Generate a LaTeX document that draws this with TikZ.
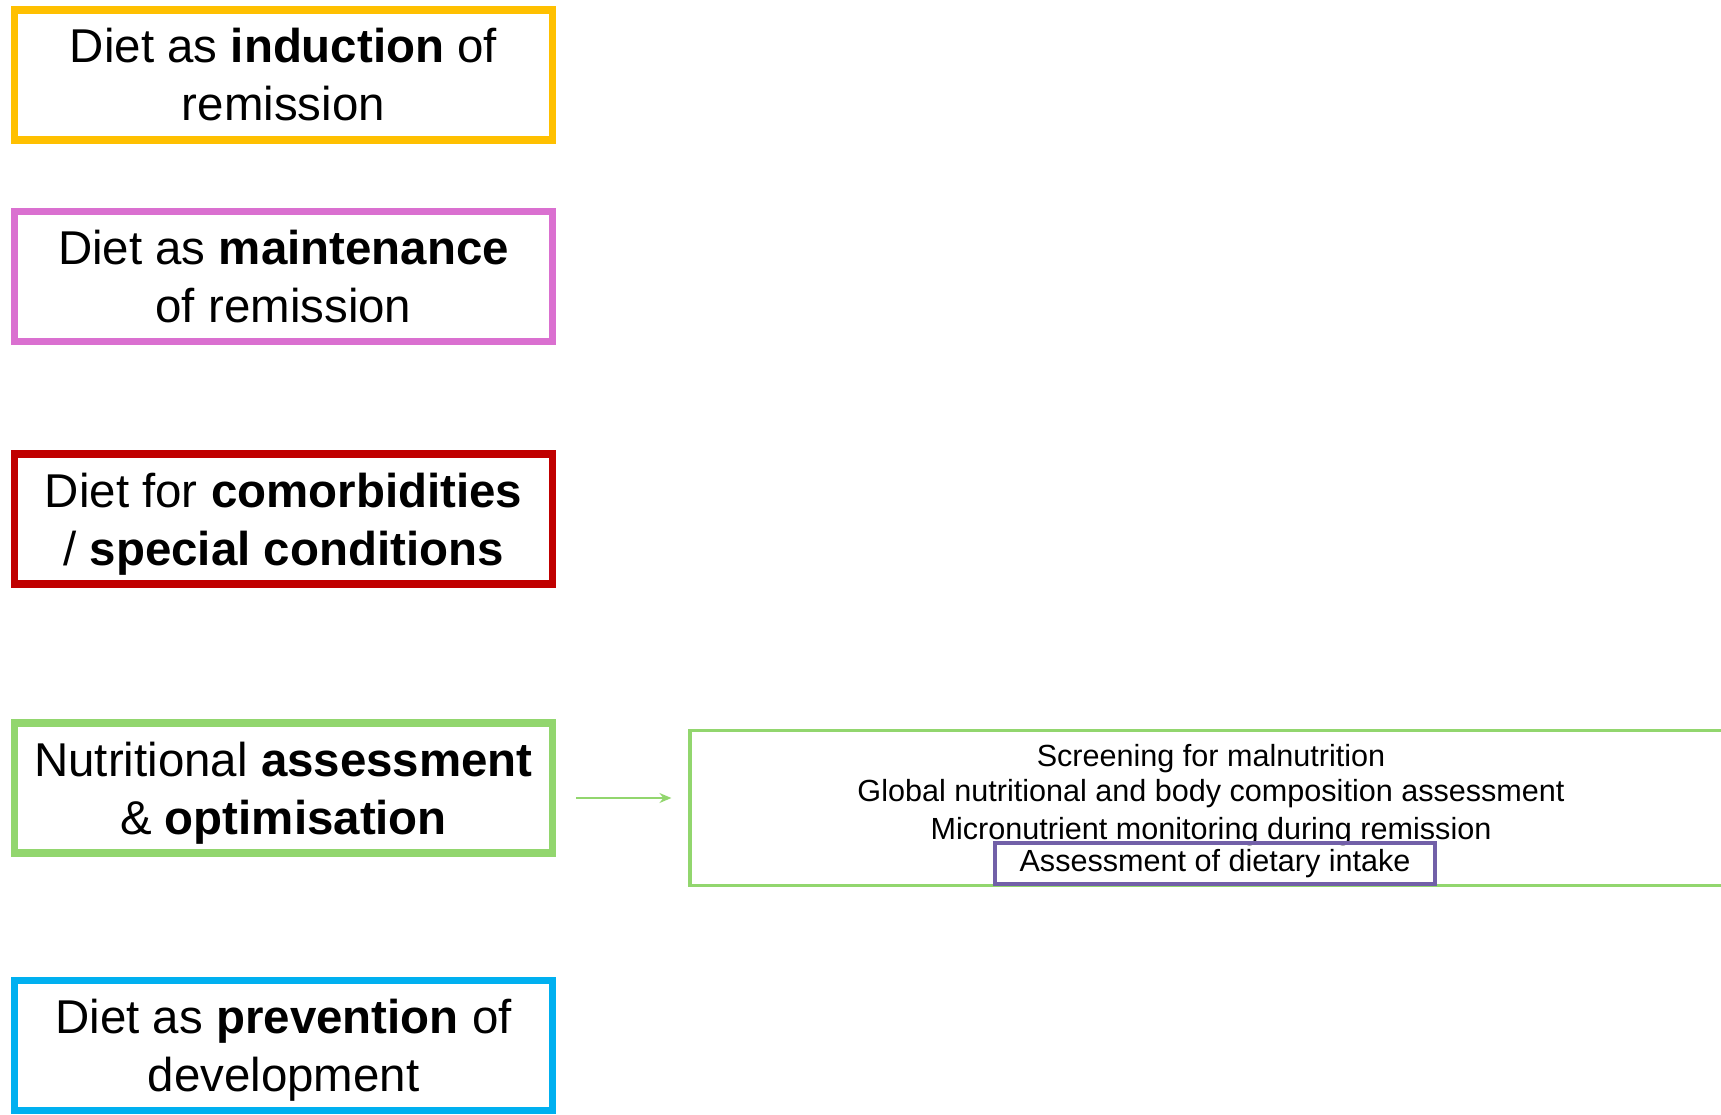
\documentclass[tikz,border=0pt]{standalone}
\usepackage{fontspec}
\setmainfont{Liberation Sans}
\usepackage{tikz}
\usetikzlibrary{arrows.meta}
\definecolor{inductioncolor}{RGB}{255, 192, 0}
\definecolor{maintenancecolor}{RGB}{218, 112, 208}
\definecolor{comorbiditycolor}{RGB}{192, 0, 0}
\definecolor{assesscolor}{RGB}{146, 214, 110}
\definecolor{preventioncolor}{RGB}{0, 176, 240}
\definecolor{intakecolor}{RGB}{114, 96, 168}

\begin{document}
\begin{tikzpicture}[
        category/.style={draw, line width=2pt, minimum width=5.38cm, minimum height=1.3cm, inner sep=0pt, align=center, font=\fontsize{13.5}{16.5}\selectfont},
        detail/.style={font=\fontsize{8.7}{10.5}\selectfont, inner sep=0pt, anchor=base}
    ]
        \useasboundingbox (0, 0) rectangle (17.21, 11.14);

        % Categories
        \node[category, draw=inductioncolor] (induction) at (2.835, 10.39) {Diet as \textbf{induction} of\\remission};
        \node[category, draw=maintenancecolor] (maintenance) at (2.835, 8.375) {Diet as \textbf{maintenance}\\of remission};
        \node[category, draw=comorbiditycolor] (comorbidity) at (2.835, 5.95) {Diet for \textbf{comorbidities}\\\smash{/ \textbf{special conditions}}};
        \node[category, draw=assesscolor] (assess) at (2.835, 3.26) {Nutritional \textbf{assessment}\\\smash{\& \textbf{optimisation}}};
        \node[category, draw=preventioncolor] (prevention) at (2.835, 0.685) {Diet as \textbf{prevention} of\\\smash{development}};

        % Assessment details
        \node[draw=assesscolor, line width=0.9pt, minimum width=10.4cm, minimum height=1.55cm] (details) at (12.10, 3.06) {};
        \node[detail] (screening) at (12.11, 3.48) {Screening for malnutrition};
        \node[detail] (global) at (12.11, 3.13) {Global nutritional and body composition assessment};
        \node[detail] (micro) at (12.11, 2.75) {Micronutrient monitoring during remission};
        \node[draw=intakecolor, line width=1.3pt, minimum width=4.40cm, minimum height=0.41cm, inner sep=0pt, font=\fontsize{8.7}{10.5}\selectfont] (intake) at (12.15, 2.505) {Assessment of dietary intake};

        % Link
        \draw[-{Stealth[length=1.2mm, width=1mm]}, assesscolor, line width=0.5pt, shorten <=0.2cm, shorten >=0.17cm] ([yshift=-1mm]assess.east) -- ([yshift=1mm]details.west);

    \end{tikzpicture}
\end{document}
